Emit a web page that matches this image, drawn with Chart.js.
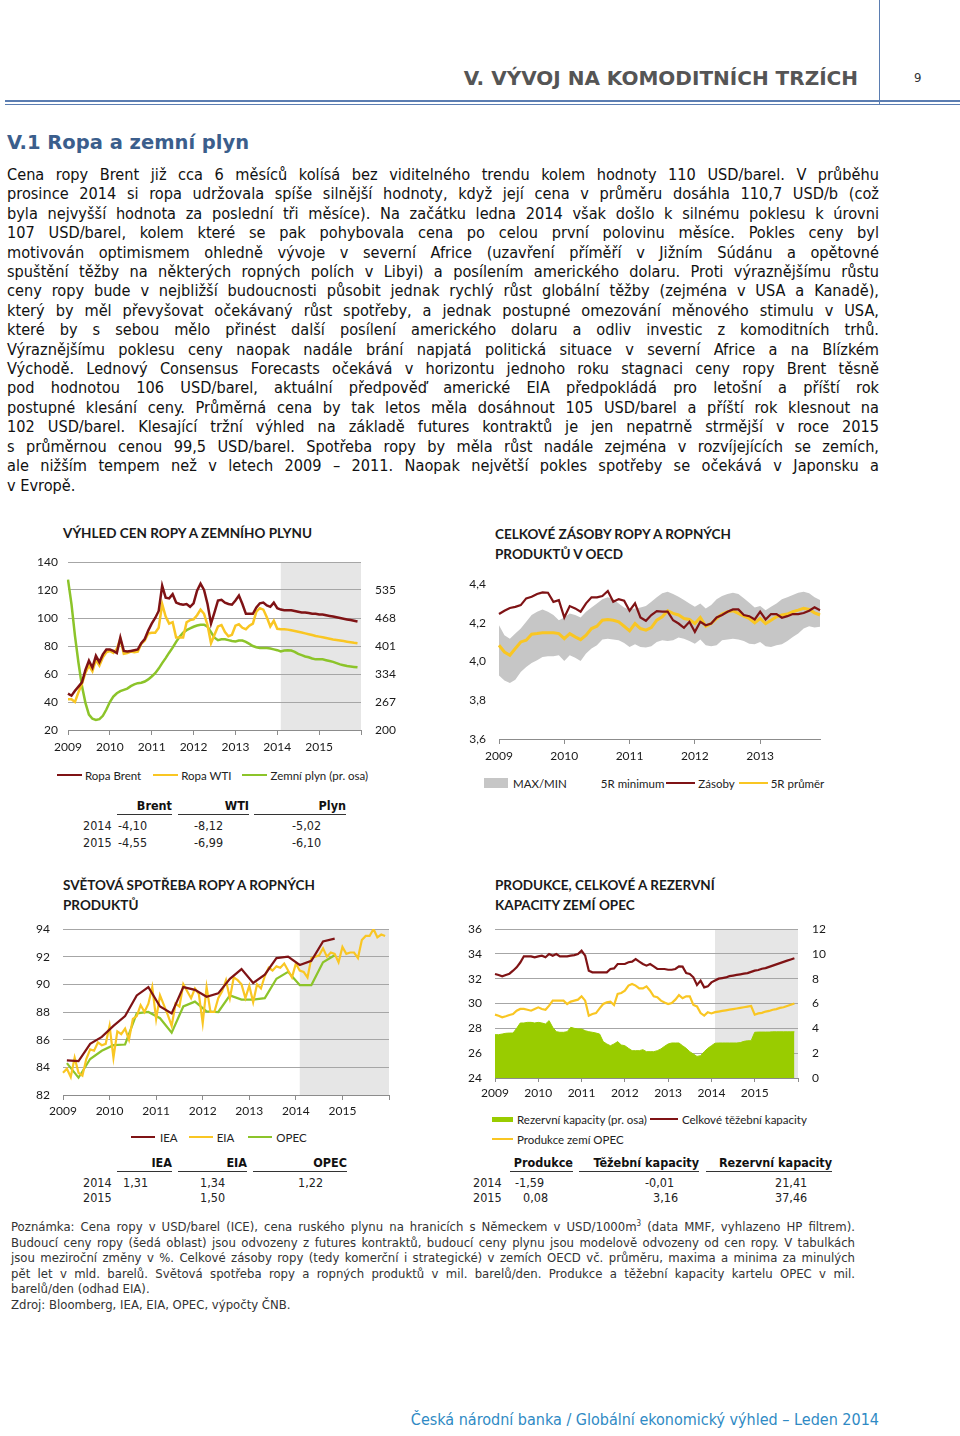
<!DOCTYPE html>
<html lang="cs">
<head>
<meta charset="utf-8">
<title>V. Vývoj na komoditních trzích</title>
<script src="https://cdn.jsdelivr.net/npm/chart.js@4"></script>
<style>
  body { margin: 0; background: #fff; }
  #page { position: relative; width: 960px; height: 1436px; overflow: hidden; color: #111;
          font-family: "DejaVu Sans Condensed", "DejaVu Sans", sans-serif; font-stretch: condensed; }
  #page > * { position: absolute; }
  canvas { display: block; }
  .para div { text-align: justify; text-align-last: justify; }
  .para div.last { text-align-last: left; }
  .ctitle { font-family: Lato, sans-serif; font-weight: 700; font-size: 13.5px; line-height: 20px; color: #1a1a1a; }
  .legend { font-family: Lato, sans-serif; font-size: 11.5px; color: #222; }
  .lg-row { display: flex; align-items: center; height: 20px; white-space: nowrap; }
  .lg-item { display: inline-flex; align-items: center; }
  .lg-mark { display: inline-block; }
  .th { font-weight: 700; font-size: 12.5px; text-align: right; line-height: 16px; height: 16px; border-bottom: 1.5px solid #333; }
  .td { font-size: 12.5px; line-height: 16px; color: #222; }
</style>
</head>
<body>
<div id="page">
  <!-- page header -->
  <div style="left:879px;top:0;width:1px;height:104px;background:#5b7db1"></div>
  <div style="left:5px;top:100px;width:955px;height:2px;background:#5b7db1"></div>
  <div style="left:5px;top:104px;width:955px;height:1px;background:#5b7db1"></div>
  <div style="right:102px;top:65px;font-family:'DejaVu Sans',sans-serif;font-weight:700;font-size:20px;line-height:26px;color:#555;font-stretch:normal">V. VÝVOJ NA KOMODITNÍCH TRZÍCH</div>
  <div style="left:914px;top:70px;font-size:13px;line-height:16px;color:#333">9</div>
  <div style="left:7px;top:131px;font-family:'DejaVu Sans',sans-serif;font-weight:700;font-size:19.5px;line-height:24px;color:#3b5e8c;font-stretch:normal">V.1 Ropa a zemní plyn</div>

  <div class="para" style="left:7px;top:165px;width:872px;font-size:16.2px;line-height:19.4px;color:#111">
    <div>Cena ropy Brent již cca 6 měsíců kolísá bez viditelného trendu kolem hodnoty 110 USD/barel. V průběhu</div>
    <div>prosince 2014 si ropa udržovala spíše silnější hodnoty, když její cena v průměru dosáhla 110,7 USD/b (což</div>
    <div>byla nejvyšší hodnota za poslední tři měsíce). Na začátku ledna 2014 však došlo k silnému poklesu k úrovni</div>
    <div>107 USD/barel, kolem které se pak pohybovala cena po celou první polovinu měsíce. Pokles ceny byl</div>
    <div>motivován optimismem ohledně vývoje v severní Africe (uzavření příměří v Jižním Súdánu a opětovné</div>
    <div>spuštění těžby na některých ropných polích v Libyi) a posílením amerického dolaru. Proti výraznějšímu růstu</div>
    <div>ceny ropy bude v nejbližší budoucnosti působit jednak rychlý růst globální těžby (zejména v USA a Kanadě),</div>
    <div>který by měl převyšovat očekávaný růst spotřeby, a jednak postupné omezování měnového stimulu v USA,</div>
    <div>které by s sebou mělo přinést další posílení amerického dolaru a odliv investic z komoditních trhů.</div>
    <div>Výraznějšímu poklesu ceny naopak nadále brání napjatá politická situace v severní Africe a na Blízkém</div>
    <div>Východě. Lednový Consensus Forecasts očekává v horizontu jednoho roku stagnaci ceny ropy Brent těsně</div>
    <div>pod hodnotou 106 USD/barel, aktuální předpověď americké EIA předpokládá pro letošní a příští rok</div>
    <div>postupné klesání ceny. Průměrná cena by tak letos měla dosáhnout 105 USD/barel a příští rok klesnout na</div>
    <div>102 USD/barel. Klesající tržní výhled na základě futures kontraktů je jen nepatrně strmější v roce 2015</div>
    <div>s průměrnou cenou 99,5 USD/barel. Spotřeba ropy by měla růst nadále zejména v rozvíjejících se zemích,</div>
    <div>ale nižším tempem než v letech 2009 – 2011. Naopak největší pokles spotřeby se očekává v Japonsku a</div>
    <div class="last">v Evropě.</div>
  </div>

  <!-- chart titles -->
  <div class="ctitle" style="left:63px;top:523px">VÝHLED CEN ROPY A ZEMNÍHO PLYNU</div>
  <div class="ctitle" style="left:495px;top:524px">CELKOVÉ ZÁSOBY ROPY A ROPNÝCH<br>PRODUKTŮ V OECD</div>
  <div class="ctitle" style="left:63px;top:875px">SVĚTOVÁ SPOTŘEBA ROPY A ROPNÝCH<br>PRODUKTŮ</div>
  <div class="ctitle" style="left:495px;top:875px">PRODUKCE, CELKOVÉ A REZERVNÍ<br>KAPACITY ZEMÍ OPEC</div>

  <canvas id="c1" width="400" height="210" style="left:20px;top:550px"></canvas>
  <canvas id="c2" width="390" height="199" style="left:450px;top:570px"></canvas>
  <canvas id="c3" width="400" height="208" style="left:20px;top:915px"></canvas>
  <canvas id="c4" width="390" height="189" style="left:450px;top:915px"></canvas>

  <div id="lg1" class="legend" style="left:57px;top:765px"></div>
  <div id="lg2" class="legend" style="left:484px;top:773px"></div>
  <div id="lg3" class="legend" style="left:131px;top:1127px"></div>
  <div id="lg4" class="legend" style="left:492px;top:1109px"></div>

  <!-- table 1 -->
  <div class="th" style="left:117px;top:798px;width:55px">Brent</div>
  <div class="th" style="left:178px;top:798px;width:71px">WTI</div>
  <div class="th" style="left:254px;top:798px;width:92px">Plyn</div>
  <div class="td" style="left:83px;top:818px">2014</div>
  <div class="td" style="left:118px;top:818px">-4,10</div>
  <div class="td" style="left:194px;top:818px">-8,12</div>
  <div class="td" style="left:292px;top:818px">-5,02</div>
  <div class="td" style="left:83px;top:835px">2015</div>
  <div class="td" style="left:118px;top:835px">-4,55</div>
  <div class="td" style="left:194px;top:835px">-6,99</div>
  <div class="td" style="left:292px;top:835px">-6,10</div>

  <!-- table 3 -->
  <div class="th" style="left:117px;top:1155px;width:55px">IEA</div>
  <div class="th" style="left:178px;top:1155px;width:69px">EIA</div>
  <div class="th" style="left:253px;top:1155px;width:94px">OPEC</div>
  <div class="td" style="left:83px;top:1175px">2014</div>
  <div class="td" style="left:123px;top:1175px">1,31</div>
  <div class="td" style="left:200px;top:1175px">1,34</div>
  <div class="td" style="left:298px;top:1175px">1,22</div>
  <div class="td" style="left:83px;top:1190px">2015</div>
  <div class="td" style="left:200px;top:1190px">1,50</div>

  <!-- table 4 -->
  <div class="th" style="left:510px;top:1155px;width:63px">Produkce</div>
  <div class="th" style="left:579px;top:1155px;width:120px">Těžební kapacity</div>
  <div class="th" style="left:706px;top:1155px;width:126px">Rezervní kapacity</div>
  <div class="td" style="left:473px;top:1175px">2014</div>
  <div class="td" style="left:515px;top:1175px">-1,59</div>
  <div class="td" style="left:645px;top:1175px">-0,01</div>
  <div class="td" style="left:775px;top:1175px">21,41</div>
  <div class="td" style="left:473px;top:1190px">2015</div>
  <div class="td" style="left:523px;top:1190px">0,08</div>
  <div class="td" style="left:653px;top:1190px">3,16</div>
  <div class="td" style="left:775px;top:1190px">37,46</div>

  <div class="para" style="left:11px;top:1219px;width:844px;font-size:13px;line-height:15.6px;color:#333">
    <div>Poznámka: Cena ropy v USD/barel (ICE), cena ruského plynu na hranicích s Německem v USD/1000m<sup style="font-size:8px;line-height:0">3</sup> (data MMF, vyhlazeno HP filtrem).</div>
    <div>Budoucí ceny ropy (šedá oblast) jsou odvozeny z futures kontraktů, budoucí ceny plynu jsou modelově odvozeny od cen ropy. V tabulkách</div>
    <div>jsou meziroční změny v %. Celkové zásoby ropy (tedy komerční i strategické) v zemích OECD vč. průměru, maxima a minima za minulých</div>
    <div>pět let v mld. barelů. Světová spotřeba ropy a ropných produktů v mil. barelů/den. Produkce a těžební kapacity kartelu OPEC v mil.</div>
    <div class="last">barelů/den (odhad EIA).</div>
    <div class="last">Zdroj: Bloomberg, IEA, EIA, OPEC, výpočty ČNB.</div>
  </div>

  <div style="right:81px;top:1410px;font-size:16px;line-height:20px;color:#2f8ac4">Česká národní banka / Globální ekonomický výhled – Leden 2014</div>
</div>

<script>
// ---- data ----
const forecastFrom = '2014-02';

// chart 1: oil and gas prices, monthly 2009-01 .. 2015-12
const brent = [
  46, 44.5, 48, 51, 54, 63, 69.5, 64.5, 73, 68.5, 74, 77.5,
  77.5, 76.5, 75, 86, 76.5, 76, 76.5, 77, 77.5, 82, 85, 91,
  96, 100, 105, 123, 114.5, 114, 117, 111, 110, 109.5, 110, 108,
  110.5, 119.5, 124.5, 120, 110, 96, 104, 112.5, 113, 111, 110, 109.5,
  112.5, 116, 110, 103, 103, 103, 107.5, 110.5, 111, 109, 108, 111,
  107, 106, 105.5, 105.5, 105.5, 105, 104.5, 104, 104, 103.5, 103, 103,
  102.5, 102.5, 102, 101.5, 101, 100.5, 100, 99.5, 99, 98.5, 98, 97.5
];
const wti = [
  42, 42, 40, 47, 53, 61, 66, 62, 70, 66, 72, 75.5,
  76.5, 75, 78, 85, 74.5, 75, 76, 75.5, 76, 81.5, 84, 89,
  89.5, 89.5, 93, 110, 101, 96, 97, 86, 86, 86, 97, 98.5,
  99, 102, 106, 103, 95, 82, 88, 94, 95, 90, 87, 88,
  94.5, 95.5, 93, 92, 94.5, 96, 104.5, 107, 106, 100.5, 94, 98,
  92.3, 92, 92, 91.7, 91.2, 90.7, 90.2, 89.6, 89, 88.4, 87.8, 87.2,
  86.7, 86.2, 85.7, 85.2, 84.7, 84.3, 83.9, 83.5, 83.1, 82.7, 82.3, 82
];
const gas = [
  560, 501, 425, 361, 305, 265, 237, 227, 224, 226, 234, 249,
  267, 280, 288, 293, 296, 299, 305, 309, 312, 313, 316, 321,
  328, 336, 347, 360, 372, 385, 397, 411, 423, 433, 439, 443,
  447, 450, 452, 452, 447, 434, 421, 415, 417, 417, 415, 413,
  412, 414, 414, 411, 406, 401, 398, 396, 396, 396, 395, 393,
  391, 388, 390, 391, 390, 387, 382, 379, 376, 374, 371, 369,
  369, 369, 367, 365, 363, 360, 357, 355, 353, 352, 351, 350
];

// chart 2: OECD stocks, monthly 2009-01 .. 2013-12
const stockMax = [
  4.187, 4.136, 4.118, 4.144, 4.170, 4.205, 4.240, 4.257, 4.269, 4.257, 4.240, 4.213,
  4.227, 4.248, 4.240, 4.227, 4.257, 4.279, 4.300, 4.321, 4.331, 4.321, 4.300, 4.279,
  4.269, 4.274, 4.279, 4.286, 4.308, 4.331, 4.352, 4.360, 4.348, 4.334, 4.317, 4.300,
  4.282, 4.300, 4.274, 4.291, 4.321, 4.338, 4.348, 4.355, 4.348, 4.326, 4.303, 4.279,
  4.286, 4.265, 4.282, 4.300, 4.321, 4.331, 4.343, 4.355, 4.360, 4.352, 4.331, 4.317
];
const stockMin = [
  3.928, 3.902, 3.889, 3.906, 3.946, 3.971, 3.992, 4.006, 4.023, 4.027, 4.027, 4.032,
  4.003, 4.032, 4.020, 4.003, 4.041, 4.067, 4.084, 4.113, 4.118, 4.113, 4.110, 4.096,
  4.075, 4.089, 4.075, 4.072, 4.079, 4.101, 4.110, 4.106, 4.110, 4.124, 4.118, 4.106,
  4.092, 4.113, 4.084, 4.079, 4.084, 4.110, 4.113, 4.118, 4.113, 4.106, 4.092, 4.089,
  4.101, 4.079, 4.075, 4.084, 4.089, 4.106, 4.127, 4.144, 4.170, 4.182, 4.175, 4.179
];
const stocks = [
  4.245, 4.262, 4.276, 4.282, 4.291, 4.326, 4.334, 4.348, 4.357, 4.355, 4.308, 4.317,
  4.227, 4.286, 4.274, 4.257, 4.300, 4.331, 4.331, 4.338, 4.364, 4.308, 4.322, 4.314,
  4.262, 4.300, 4.227, 4.210, 4.240, 4.260, 4.257, 4.257, 4.213, 4.196, 4.174, 4.205,
  4.153, 4.205, 4.187, 4.196, 4.227, 4.240, 4.257, 4.269, 4.269, 4.240, 4.234, 4.217,
  4.257, 4.217, 4.245, 4.245, 4.226, 4.234, 4.245, 4.245, 4.250, 4.262, 4.280, 4.265
];
const stockAvg = [
  4.084, 4.049, 4.032, 4.067, 4.101, 4.110, 4.141, 4.144, 4.148, 4.148, 4.148, 4.144,
  4.118, 4.144, 4.127, 4.113, 4.136, 4.170, 4.182, 4.213, 4.217, 4.213, 4.205, 4.182,
  4.158, 4.196, 4.170, 4.162, 4.175, 4.213, 4.231, 4.262, 4.248, 4.240, 4.222, 4.217,
  4.196, 4.227, 4.182, 4.196, 4.222, 4.245, 4.257, 4.262, 4.248, 4.234, 4.222, 4.200,
  4.222, 4.196, 4.213, 4.231, 4.240, 4.245, 4.257, 4.265, 4.274, 4.269, 4.251, 4.240
];

// chart 3: world demand; IEA and OPEC quarterly (2009Q1 .. 2014Q4), EIA monthly
const ieaQ = [84.5, 84.45, 85.7, 86.2, 87.0, 87.7, 89.2, 89.8, 88.4, 87.9, 89.8, 89.6,
              89.1, 89.35, 90.4, 91.1, 90.1, 90.7, 91.9, 92.0, 91.4, 91.7, 93.1, 93.3];
const opecQ = [84.3, 83.25, 84.6, 85.2, 85.6, 85.65, 87.9, 88.0, 87.55, 86.5, 88.4, 88.75,
               88.05, 88.0, 89.2, 88.9, 88.9, 89.0, 90.4, 90.9, 89.95, 89.95, 91.6, 92.1];
const eia = [
  83.6, 83.9, 83.3, 84.7, 83.6, 83.4, 84.6, 85.3, 85.2, 85.8, 85.6, 85.7,
  87.0, 84.7, 86.6, 86.4, 86.8, 86.0, 87.5, 87.7, 88.5, 88.0, 88.6, 89.8,
  87.5, 89.2, 88.5, 87.8, 87.0, 88.6, 88.4, 90.0, 89.5, 89.0, 89.7, 89.3,
  87.2, 89.8, 88.0, 88.0, 89.0, 89.5, 90.3, 89.0, 90.5, 90.3, 90.0, 89.0,
  89.9, 88.7, 90.0, 89.7, 90.6, 91.2, 91.0, 91.3, 91.2, 91.5, 91.0, 90.5,
  91.5, 91.0, 90.9, 90.5, 91.9, 92.0, 92.1, 92.6, 92.0, 92.3, 92.2, 91.6,
  92.7, 92.2, 92.3, 92.3, 91.9, 93.2, 93.5, 93.5, 94.0, 93.4, 93.6, 93.5
];

// chart 4: OPEC production and capacity, monthly 2009-01 .. 2015-12
const spare = [
  3.49, 3.49, 3.54, 3.6, 3.62, 3.62, 4.0, 4.43, 4.43, 4.48, 4.48, 4.43,
  4.48, 4.43, 4.35, 4.62, 4.08, 3.73, 3.68, 3.68, 3.73, 4.08, 4.0, 3.95,
  3.95, 3.81, 3.73, 3.68, 3.62, 3.54, 2.93, 2.74, 2.6, 2.74, 2.93, 2.66,
  2.6, 2.39, 2.2, 2.2, 2.2, 2.28, 2.12, 2.12, 2.12, 2.2, 2.34, 2.55,
  2.74, 2.82, 2.82, 2.82, 2.6, 2.39, 2.12, 1.93, 1.74, 1.8, 2.12, 2.39,
  2.6, 2.8, 2.82, 2.82, 2.82, 2.82, 2.82, 2.82, 2.85, 2.95, 3.0, 3.0,
  3.68, 3.7, 3.7, 3.7, 3.7, 3.72, 3.72, 3.72, 3.72, 3.72, 3.72, 3.72
];
const capacity = [
  32.38, 32.3, 32.19, 32.3, 32.4, 32.64, 32.91, 33.3, 33.8, 33.8, 33.8, 33.72,
  33.8, 33.85, 33.72, 33.99, 33.85, 33.99, 33.8, 33.8, 33.8, 33.85, 33.9, 33.99,
  34.25, 33.85, 32.64, 32.51, 32.51, 32.51, 32.51, 32.51, 32.78, 32.83, 33.18, 33.18,
  33.18, 33.32, 33.37, 33.58, 33.37, 33.18, 33.05, 33.18, 32.99, 32.78, 32.78, 32.78,
  32.72, 32.72, 32.78, 32.99, 32.97, 32.46, 32.38, 32.11, 31.49, 31.84, 31.3, 31.38,
  31.7, 31.85, 32.0, 32.05, 32.1, 32.2, 32.25, 32.3, 32.35, 32.4, 32.45, 32.55,
  32.65, 32.7, 32.8, 32.85, 32.95, 33.05, 33.15, 33.25, 33.35, 33.45, 33.55, 33.65
];
const production = [
  29.1, 29.02, 28.89, 28.97, 29.07, 29.15, 29.42, 29.56, 29.56, 29.5, 29.42, 29.56,
  29.69, 29.56, 29.5, 29.83, 30.23, 30.23, 30.23, 30.23, 29.96, 30.15, 30.23, 30.31,
  30.58, 30.23, 29.02, 29.15, 29.23, 29.61, 29.96, 30.09, 30.15, 29.88, 30.77, 30.85,
  31.03, 31.44, 31.57, 31.44, 31.22, 31.22, 31.38, 31.03, 30.58, 30.5, 30.23, 30.09,
  29.96, 30.04, 30.31, 30.68, 30.42, 30.58, 30.58, 29.88, 29.77, 29.23, 29.02, 29.29,
  29.2, 29.3, 29.35, 29.4, 29.45, 29.5, 29.55, 29.6, 29.65, 29.7, 29.75, 29.8,
  29.1, 29.2, 29.25, 29.35, 29.4, 29.5, 29.55, 29.65, 29.7, 29.8, 29.9, 30.0
];

// ---- colours & helpers ----
const RED = '#7f1315', YELLOW = '#f9c623', GREEN = '#8cc42a', AREA_GREEN = '#99cc00';
const BAND = '#c6c6c6', SHADE = '#e6e6e6', GRID = '#a6a6a6', AXIS = '#8c8c8c';
const tickFont = { family: 'Lato', size: 12 };
const tickColor = '#1a1a1a';

function monthLabels(fromYear, count) {
  const out = [];
  for (let i = 0; i < count; i++) {
    out.push((fromYear + Math.floor(i / 12)) + '-' + String(i % 12 + 1).padStart(2, '0'));
  }
  return out;
}
const months85 = monthLabels(2009, 85);   // axis runs to 2016-01
const months60 = monthLabels(2009, 60);
// quarterly values sit on the middle month of each quarter
const onQuarters = (q, n) => Array.from({ length: n }, (_, i) => (i % 3 === 1 && (i - 1) / 3 < q.length) ? q[(i - 1) / 3] : null);

// grey forecast area, painted before the grid
const shadePlugin = {
  id: 'shade',
  beforeDraw(chart, args, opts) {
    if (!opts.from) return;
    const { ctx, chartArea: a, scales: { x } } = chart;
    const x0 = x.getPixelForValue(x.getLabels().indexOf(opts.from));
    ctx.save();
    ctx.fillStyle = SHADE;
    ctx.fillRect(x0, a.top, a.right - x0, a.bottom - a.top);
    ctx.restore();
  }
};

function xAxis(lastYear, tickLen, pad, height) {
  return {
    type: 'category',
    offset: false,
    grid: { drawOnChartArea: false, drawTicks: true, tickLength: tickLen,
            color: c => (c.index % 12 === 0 ? AXIS : 'rgba(0,0,0,0)') },
    border: { display: true, color: AXIS },
    ticks: {
      autoSkip: false, maxRotation: 0, minRotation: 0, padding: pad, font: tickFont, color: tickColor,
      callback(v) {
        const l = this.getLabelForValue(v);
        return l.endsWith('-01') && Number(l.slice(0, 4)) <= lastYear ? l.slice(0, 4) : '';
      }
    },
    afterFit(s) { s.height = height; }
  };
}
function yAxis(o) {
  return {
    position: o.position || 'left',
    min: o.min, max: o.max,
    grid: { display: !!o.grid, color: GRID, drawTicks: false },
    border: { display: false },
    ticks: { stepSize: o.step, padding: o.pad, font: tickFont, color: tickColor, callback: o.fmt || (v => v) },
    // fixed width; no extra top/bottom room so the plot edges sit where layout.padding says
    afterFit(s) { s.width = o.width; s.paddingTop = 0; s.paddingBottom = 0; }
  };
}
const line = (label, data, color, width, extra) =>
  Object.assign({ label, data, borderColor: color, backgroundColor: color, borderWidth: width,
                  pointRadius: 0, fill: false, tension: 0 }, extra || {});
const common = (padding, shadeFrom) => ({
  responsive: false, animation: false, events: [],
  layout: { padding },
  plugins: { legend: { display: false }, tooltip: { enabled: false },
             filler: { drawTime: 'beforeDatasetsDraw' },
             shade: { from: shadeFrom } }
});

// ---- chart 1 ----
const ds1 = [
  line('Ropa Brent', brent, RED, 2.5),
  line('Ropa WTI', wti, YELLOW, 2.5),
  line('Zemní plyn (pr. osa)', gas, GREEN, 2.5, { yAxisID: 'y2' })
];
new Chart(document.getElementById('c1'), {
  type: 'line',
  data: { labels: months85, datasets: ds1 },
  options: Object.assign(common({ top: 12 }, forecastFrom), {
    scales: {
      x: xAxis(2015, 5, 5, 30),
      y: yAxis({ min: 20, max: 140, step: 20, grid: true, pad: 10, width: 48 }),
      y2: yAxis({ position: 'right', min: 200, max: 602, step: 67, pad: 14, width: 59,
                  fmt: v => (v >= 602 ? '' : v) })
    }
  }),
  plugins: [shadePlugin]
});

// ---- chart 2 ----
const ds2 = [
  line('MAX/MIN', stockMax, 'rgba(0,0,0,0)', 0, { backgroundColor: BAND, fill: '+1' }),
  line('5R minimum', stockMin, 'rgba(0,0,0,0)', 0, { backgroundColor: '#ffffff' }),
  line('Zásoby', stocks, RED, 2.2),
  line('5R průměr', stockAvg, YELLOW, 3)
];
new Chart(document.getElementById('c2'), {
  type: 'line',
  data: { labels: months60, datasets: ds2 },
  options: Object.assign(common({ top: 14, right: 20 }, null), {
    scales: {
      x: xAxis(2013, 5, 5, 30),
      y: yAxis({ min: 3.6, max: 4.4, step: 0.2, pad: 13, width: 49,
                 fmt: v => Number(v).toFixed(1).replace('.', ',') })
    }
  }),
  plugins: [shadePlugin]
});

// ---- chart 3 ----
const ds3 = [
  line('IEA', onQuarters(ieaQ, 84), RED, 2.2, { spanGaps: true }),
  line('EIA', eia, YELLOW, 2.2),
  line('OPEC', onQuarters(opecQ, 84), GREEN, 2.2, { spanGaps: true })
];
new Chart(document.getElementById('c3'), {
  type: 'line',
  data: { labels: months85, datasets: ds3 },
  options: Object.assign(common({ top: 14, right: 31 }, forecastFrom), {
    scales: {
      x: xAxis(2015, 5, 4, 28),
      y: yAxis({ min: 82, max: 94, step: 2, grid: true, pad: 13, width: 43 })
    }
  }),
  plugins: [shadePlugin]
});

// ---- chart 4 ----
const ds4 = [
  line('Rezervní kapacity (pr. osa)', spare, AREA_GREEN, 1, { yAxisID: 'y2', fill: 'origin' }),
  line('Celkové těžební kapacity', capacity, RED, 2.2),
  line('Produkce zemí OPEC', production, YELLOW, 2.2)
];
new Chart(document.getElementById('c4'), {
  type: 'line',
  data: { labels: months85, datasets: ds4 },
  options: Object.assign(common({ top: 14 }, forecastFrom), {
    scales: {
      x: xAxis(2015, 4, 4, 26),
      y: yAxis({ min: 24, max: 36, step: 2, grid: true, pad: 13, width: 45 }),
      y2: yAxis({ position: 'right', min: 0, max: 12, step: 2, pad: 14, width: 42 })
    }
  }),
  plugins: [shadePlugin]
});

// ---- legends ----
function drawLegend(id, rows) {
  document.getElementById(id).innerHTML = rows.map(row =>
    '<div class="lg-row">' + row.map(it =>
      `<span class="lg-item" style="margin-right:${it.gap}px"><span class="lg-mark" style="width:${it.w}px;height:${it.h}px;background:${it.color};margin-right:${it.tx}px"></span>${it.ds.label}</span>`
    ).join('') + '</div>'
  ).join('');
}
drawLegend('lg1', [[
  { ds: ds1[0], color: RED, w: 25, h: 2.5, tx: 3, gap: 12 },
  { ds: ds1[1], color: YELLOW, w: 25, h: 2.5, tx: 3, gap: 11 },
  { ds: ds1[2], color: GREEN, w: 25, h: 2.5, tx: 3, gap: 0 }
]]);
drawLegend('lg2', [[
  { ds: ds2[0], color: BAND, w: 24, h: 10, tx: 5, gap: 4 },
  { ds: ds2[1], color: '#ffffff', w: 26, h: 10, tx: 4, gap: 2 },
  { ds: ds2[2], color: RED, w: 29, h: 2.5, tx: 3, gap: 4 },
  { ds: ds2[3], color: YELLOW, w: 29, h: 2.5, tx: 3, gap: 0 }
]]);
drawLegend('lg3', [[
  { ds: ds3[0], color: RED, w: 24, h: 2.5, tx: 5, gap: 11 },
  { ds: ds3[1], color: YELLOW, w: 24, h: 2.5, tx: 4, gap: 14 },
  { ds: ds3[2], color: GREEN, w: 24, h: 2.5, tx: 4, gap: 0 }
]]);
drawLegend('lg4', [[
  { ds: ds4[0], color: AREA_GREEN, w: 21, h: 5, tx: 4, gap: 3 },
  { ds: ds4[1], color: RED, w: 28, h: 2.5, tx: 4, gap: 0 }
], [
  { ds: ds4[2], color: YELLOW, w: 21, h: 2.5, tx: 4, gap: 0 }
]]);
</script>
</body>
</html>
